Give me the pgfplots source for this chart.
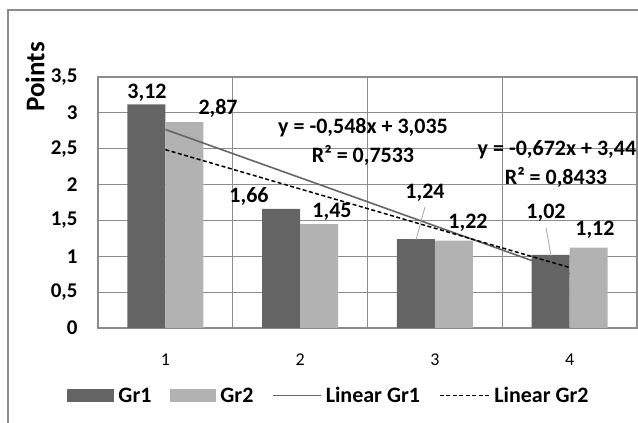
\documentclass[border=0pt]{standalone}
\usepackage{fontspec}
\setmainfont{Carlito}
\usepackage{pgfplots}
\pgfplotsset{compat=1.18}
\definecolor{gA}{HTML}{646464}
\definecolor{gB}{HTML}{B2B2B2}
\definecolor{gridc}{HTML}{8C8C8C}
\definecolor{trendA}{HTML}{666666}
\newcommand{\lab}{\fontsize{22}{26}\selectfont\bfseries}
\begin{document}
\begin{tikzpicture}[x=1pt,y=1pt]
\useasboundingbox (0,0) rectangle (638,423);
\draw[gridc, line width=1.2pt] (8,0) -- (8,413) -- (640,413);
\begin{axis}[
  at={(98pt,95pt)}, anchor=south west,
  scale only axis, width=539pt, height=251pt,
  xmin=0.5, xmax=4.5, ymin=0, ymax=3.5,
  xtick={1,2,3,4}, minor xtick={1.5,2.5,3.5},
  ytick={0,0.5,...,3.5},
  major tick length=0pt, minor tick length=0pt,
  xminorgrids=true, ymajorgrids=true,
  grid style={gridc, line width=1.2pt},
  minor grid style={gridc, line width=1.2pt},
  axis line style={gridc, line width=1.2pt},
  clip=false,
  /pgf/number format/assume math mode=true,
  /pgf/number format/use comma,
  yticklabel style={font=\fontsize{21}{24}\selectfont\bfseries, anchor=east, xshift=-17pt},
  xticklabel style={font=\fontsize{18}{21}\selectfont, yshift=-22pt},
  legend columns=4,
  legend style={draw=none, at={(0.4286,-0.27)}, anchor=center,
    font=\fontsize{22}{26}\selectfont\bfseries,
    /tikz/every odd column/.append style={column sep=2pt},
    /tikz/every even column/.append style={column sep=17pt}},
]
\addplot[ybar, bar width=0.282, bar shift=-0.141, fill=gA, draw=none,
  legend image code/.code={\fill[gA] (0pt,-6.5pt) rectangle (47pt,6.5pt);}]
  coordinates {(1,3.12) (2,1.66) (3,1.24) (4,1.02)};
\addlegendentry{Gr1}
\addplot[ybar, bar width=0.282, bar shift=0.141, fill=gB, draw=none,
  legend image code/.code={\fill[gB] (0pt,-6.5pt) rectangle (46pt,6.5pt);}]
  coordinates {(1,2.87) (2,1.45) (3,1.22) (4,1.12)};
\addlegendentry{Gr2}
\addplot[trendA, line width=1.6pt,
  legend image code/.code={\draw[trendA, line width=1.3pt] (0pt,0pt) -- (48pt,0pt);}]
  coordinates {(1,2.768) (4,0.752)};
\addlegendentry{Linear Gr1}
\addplot[black, line width=1.5pt, dash pattern=on 4pt off 2.5pt,
  legend image code/.code={\draw[black, line width=1.3pt, dash pattern=on 4pt off 2.5pt] (0pt,0pt) -- (50pt,0pt);}]
  coordinates {(1,2.487) (4,0.843)};
\addlegendentry{Linear Gr2}
% data labels
\node[font=\lab] at (axis cs:0.864,3.277) {3,12};
\node[font=\lab] at (axis cs:1.391,3.068) {2,87};
\node[font=\lab] at (axis cs:1.621,1.827) {1,66};
\node[font=\lab] at (axis cs:2.237,1.618) {1,45};
\node[font=\lab] at (axis cs:2.927,1.883) {1,24};
\node[font=\lab] at (axis cs:3.246,1.464) {1,22};
\node[font=\lab] at (axis cs:3.825,1.604) {1,02};
\node[font=\lab] at (axis cs:4.188,1.367) {1,12};
\draw[gray!70, line width=0.8pt] (axis cs:2.927,1.69) -- (axis cs:2.86,1.227);
\draw[gray!70, line width=0.8pt] (axis cs:3.825,1.40) -- (axis cs:3.862,1.004);
% trendline equations
\node[font=\lab] at (axis cs:2.467,2.789) {y = -0,548x + 3,035};
\node[font=\lab] at (axis cs:2.467,2.412) {R² = 0,7533};
\node[font=\lab] at (axis cs:3.906,2.482) {y = -0,672x + 3,44};
\node[font=\lab] at (axis cs:3.899,2.106) {R² = 0,8433};
\end{axis}
\node[rotate=90, font=\fontsize{27}{30}\selectfont\bfseries] at (35,346) {Points};
\end{tikzpicture}
\end{document}
